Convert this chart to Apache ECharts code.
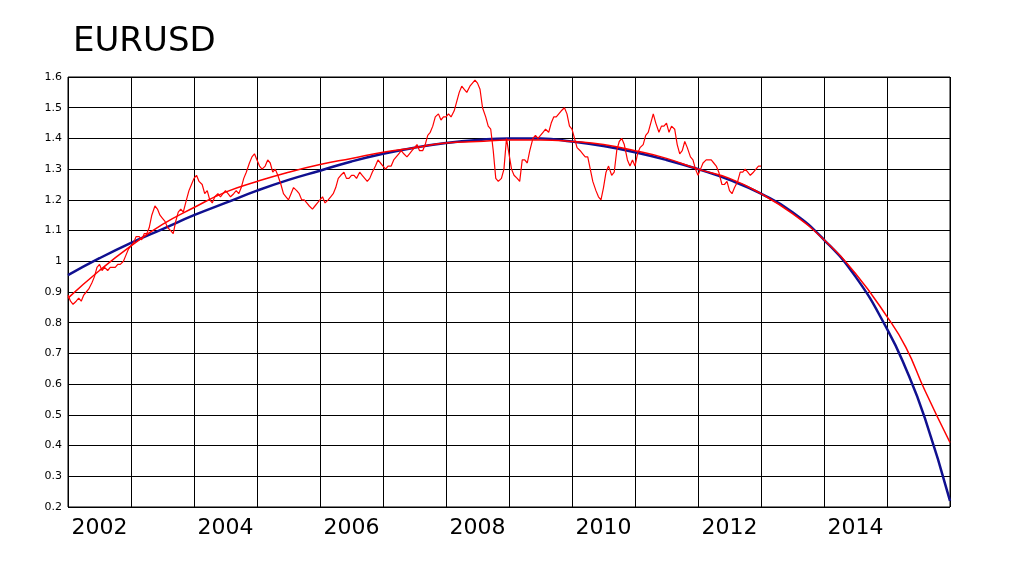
<!DOCTYPE html>
<head>
	<meta charset="utf-8">
	<title>EURUSD</title>
	<script src="https://cdn.jsdelivr.net/npm/echarts@6/dist/echarts.min.js"></script>
</head>
<body style="margin:0;background:#fff">
	<div id="main" style="width:1024px; height:562px"></div>
	<script type="text/javascript">
	// 年份标签（位于每年格子的中间）
	var years = ['2002','2003','2004','2005','2006','2007','2008','2009','2010','2011','2012','2013','2014','2015'];

	// 实际汇率 [时间, 值]
	var rate = [
		[2002.00,0.89],[2002.04,0.87],[2002.08,0.86],[2002.13,0.87],[2002.17,0.88],[2002.21,0.87],[2002.25,0.89],[2002.29,0.90],
		[2002.33,0.91],[2002.38,0.93],[2002.42,0.95],[2002.46,0.98],[2002.50,0.99],[2002.54,0.97],[2002.58,0.98],[2002.63,0.97],
		[2002.67,0.98],[2002.71,0.98],[2002.75,0.98],[2002.79,0.99],[2002.83,0.99],[2002.88,1.00],[2002.92,1.02],[2002.96,1.04],
		[2003.00,1.05],[2003.04,1.06],[2003.08,1.08],[2003.13,1.08],[2003.17,1.07],[2003.21,1.09],[2003.25,1.09],[2003.29,1.11],
		[2003.33,1.15],[2003.38,1.18],[2003.42,1.17],[2003.46,1.15],[2003.50,1.14],[2003.54,1.13],[2003.58,1.11],[2003.63,1.10],
		[2003.67,1.09],[2003.71,1.13],[2003.75,1.16],[2003.79,1.17],[2003.83,1.16],[2003.88,1.20],[2003.92,1.23],[2003.96,1.25],
		[2004.00,1.27],[2004.04,1.28],[2004.08,1.26],[2004.13,1.25],[2004.17,1.22],[2004.21,1.23],[2004.25,1.20],[2004.29,1.19],
		[2004.33,1.21],[2004.38,1.22],[2004.42,1.21],[2004.46,1.22],[2004.50,1.23],[2004.54,1.22],[2004.58,1.21],[2004.63,1.22],
		[2004.67,1.23],[2004.71,1.22],[2004.75,1.24],[2004.79,1.27],[2004.83,1.29],[2004.88,1.32],[2004.92,1.34],[2004.96,1.35],
		[2005.00,1.33],[2005.04,1.31],[2005.08,1.30],[2005.13,1.31],[2005.17,1.33],[2005.21,1.32],[2005.25,1.29],[2005.29,1.30],
		[2005.33,1.28],[2005.38,1.25],[2005.42,1.22],[2005.46,1.21],[2005.50,1.20],[2005.54,1.22],[2005.58,1.24],[2005.63,1.23],
		[2005.67,1.22],[2005.71,1.20],[2005.75,1.20],[2005.79,1.19],[2005.83,1.18],[2005.88,1.17],[2005.92,1.18],[2005.96,1.19],
		[2006.00,1.20],[2006.04,1.21],[2006.08,1.19],[2006.13,1.20],[2006.17,1.21],[2006.21,1.22],[2006.25,1.24],[2006.29,1.27],
		[2006.33,1.28],[2006.38,1.29],[2006.42,1.27],[2006.46,1.27],[2006.50,1.28],[2006.54,1.28],[2006.58,1.27],[2006.63,1.29],
		[2006.67,1.28],[2006.71,1.27],[2006.75,1.26],[2006.79,1.27],[2006.83,1.29],[2006.88,1.31],[2006.92,1.33],[2006.96,1.32],
		[2007.00,1.31],[2007.04,1.30],[2007.08,1.31],[2007.13,1.31],[2007.17,1.33],[2007.21,1.34],[2007.25,1.35],[2007.29,1.36],
		[2007.33,1.35],[2007.38,1.34],[2007.42,1.35],[2007.46,1.36],[2007.50,1.37],[2007.54,1.38],[2007.58,1.36],[2007.63,1.36],
		[2007.67,1.38],[2007.71,1.41],[2007.75,1.42],[2007.79,1.44],[2007.83,1.47],[2007.88,1.48],[2007.92,1.46],[2007.96,1.47],
		[2008.00,1.47],[2008.04,1.48],[2008.08,1.47],[2008.13,1.49],[2008.17,1.52],[2008.21,1.55],[2008.25,1.57],[2008.29,1.56],
		[2008.33,1.55],[2008.38,1.57],[2008.42,1.58],[2008.46,1.59],[2008.50,1.58],[2008.54,1.56],[2008.58,1.50],[2008.63,1.47],
		[2008.67,1.44],[2008.71,1.43],[2008.75,1.36],[2008.79,1.27],[2008.83,1.26],[2008.88,1.27],[2008.92,1.30],[2008.96,1.40],
		[2009.00,1.35],[2009.04,1.30],[2009.08,1.28],[2009.13,1.27],[2009.17,1.26],[2009.21,1.33],[2009.25,1.33],[2009.29,1.32],
		[2009.33,1.36],[2009.38,1.40],[2009.42,1.41],[2009.46,1.40],[2009.50,1.41],[2009.54,1.42],[2009.58,1.43],[2009.63,1.42],
		[2009.67,1.45],[2009.71,1.47],[2009.75,1.47],[2009.79,1.48],[2009.83,1.49],[2009.88,1.50],[2009.92,1.48],[2009.96,1.44],
		[2010.00,1.43],[2010.04,1.40],[2010.08,1.37],[2010.13,1.36],[2010.17,1.35],[2010.21,1.34],[2010.25,1.34],[2010.29,1.30],
		[2010.33,1.26],[2010.38,1.23],[2010.42,1.21],[2010.46,1.20],[2010.50,1.24],[2010.54,1.29],[2010.58,1.31],[2010.63,1.28],
		[2010.67,1.29],[2010.71,1.36],[2010.75,1.39],[2010.79,1.40],[2010.83,1.38],[2010.88,1.33],[2010.92,1.31],[2010.96,1.33],
		[2011.00,1.31],[2011.04,1.35],[2011.08,1.37],[2011.13,1.38],[2011.17,1.41],[2011.21,1.42],[2011.25,1.45],[2011.29,1.48],
		[2011.33,1.45],[2011.38,1.42],[2011.42,1.44],[2011.46,1.44],[2011.50,1.45],[2011.54,1.42],[2011.58,1.44],[2011.63,1.43],
		[2011.67,1.38],[2011.71,1.35],[2011.75,1.36],[2011.79,1.39],[2011.83,1.37],[2011.88,1.34],[2011.92,1.33],[2011.96,1.30],
		[2012.00,1.28],[2012.04,1.30],[2012.08,1.32],[2012.13,1.33],[2012.17,1.33],[2012.21,1.33],[2012.25,1.32],[2012.29,1.31],
		[2012.33,1.29],[2012.38,1.25],[2012.42,1.25],[2012.46,1.26],[2012.50,1.23],[2012.54,1.22],[2012.58,1.24],[2012.63,1.26],
		[2012.67,1.29],[2012.71,1.29],[2012.75,1.30],[2012.79,1.29],[2012.83,1.28],[2012.88,1.29],[2012.92,1.30],[2012.96,1.31],
		[2013.00,1.31]
	];

	// 红色拟合曲线
	var redFit = [
		[2002,0.88],[2002.5,0.97],[2003,1.05],[2003.5,1.12],[2004,1.175],[2004.5,1.225],[2005,1.26],[2005.5,1.29],
		[2006,1.315],[2006.5,1.335],[2007,1.355],[2007.5,1.37],[2008,1.385],[2008.5,1.39],[2009,1.395],[2009.5,1.395],
		[2010,1.39],[2010.5,1.38],[2011,1.36],[2011.5,1.335],[2012,1.30],[2012.5,1.27],[2013,1.22],[2013.5,1.155],
		[2014,1.07],[2014.5,0.96],[2015,0.82],[2015.3,0.72],[2015.6,0.58],[2016,0.41]
	];

	// 蓝色拟合曲线
	var blueFit = [
		[2002,0.955],[2002.5,1.01],[2003,1.06],[2003.5,1.105],[2004,1.15],[2004.5,1.19],[2005,1.23],[2005.5,1.265],
		[2006,1.295],[2006.5,1.325],[2007,1.35],[2007.5,1.37],[2008,1.385],[2008.5,1.395],[2009,1.40],[2009.5,1.40],
		[2010,1.39],[2010.5,1.375],[2011,1.355],[2011.5,1.33],[2012,1.30],[2012.5,1.265],[2013,1.22],[2013.5,1.16],
		[2014,1.07],[2014.5,0.95],[2015,0.78],[2015.3,0.65],[2015.6,0.49],[2016,0.22]
	];

	var myChart = echarts.init(document.getElementById('main'));
	var option = {
		backgroundColor: '#ffffff',
		animation: false,
		title: {
			text: 'EURUSD',
			left: 68,
			top: 20,
			textStyle: { fontFamily: 'DejaVu Sans', fontSize: 34, fontWeight: 'normal', color: '#000' }
		},
		grid: { left: 68, right: 74, top: 77, bottom: 55, show: true, borderColor: '#000', borderWidth: 1 },
		xAxis: [
			{
				type: 'value', min: 2002, max: 2016, interval: 1,
				axisLabel: { show: false }, axisTick: { show: false },
				axisLine: { show: false },
				splitLine: { show: true, lineStyle: { color: '#000', width: 1 } }
			},
			{
				// 仅用于在格子中间显示年份
				type: 'category', data: years, boundaryGap: true, position: 'bottom',
				axisLine: { show: false }, axisTick: { show: false }, splitLine: { show: false },
				axisLabel: { interval: 1, color: '#000', fontSize: 22, fontFamily: 'DejaVu Sans', margin: 10 }
			}
		],
		yAxis: {
			type: 'value', min: 0.2, max: 1.6, interval: 0.1,
			axisLine: { show: false }, axisTick: { show: false },
			axisLabel: { color: '#000', fontSize: 11, fontFamily: 'DejaVu Sans', margin: 6,
				formatter: function (v) { return String(Math.round(v * 10) / 10); } },
			splitLine: { show: true, lineStyle: { color: '#000', width: 1 } }
		},
		series: [
			{ type: 'line', data: blueFit, smooth: true, symbol: 'none', lineStyle: { color: '#101090', width: 2.5 } },
			{ type: 'line', data: redFit, smooth: true, symbol: 'none', lineStyle: { color: '#ff0000', width: 1.5 } },
			{ type: 'line', data: rate, symbol: 'none', lineStyle: { color: '#ff0000', width: 1.2 } }
		]
	};
	myChart.setOption(option);
	</script>
</body>
